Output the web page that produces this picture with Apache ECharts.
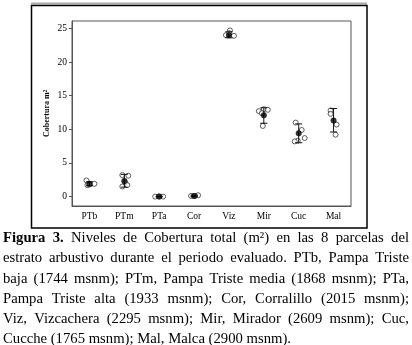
<!DOCTYPE html>
<html>
<head>
<meta charset="utf-8">
<script src="https://cdn.jsdelivr.net/npm/echarts@6/dist/echarts.min.js"></script>
<style>
html, body { margin: 0; padding: 0; background: #fff; }
#chart { width: 412px; height: 345px; }
</style>
</head>
<body>
<div id="chart"></div>
<script>
// categories (parcelas) and y tick labels
const categories = ['PTb', 'PTm', 'PTa', 'Cor', 'Viz', 'Mir', 'Cuc', 'Mal'];
const yTicks = [0, 5, 10, 15, 20, 25];

// mean and error bar limits per parcela
const means = [1.9, 2.3, 0.0, 0.1, 24.0, 12.1, 9.4, 11.3];
const lower = [1.6, 1.4, -0.05, 0.0, 23.6, 10.9, 8.0, 9.6];
const upper = [2.2, 3.3, 0.05, 0.2, 24.5, 13.2, 10.8, 13.1];

// individual observations (open circles)
const obsPTb = [2.4, 1.9, 1.7, 1.8];
const obsPTm = [3.2, 3.1, 2.1, 1.7, 1.5];
const obsPTa = [0.0, 0.0, 0.0];
const obsCor = [0.1, 0.2, 0.1];
const obsViz = [24.7, 24.3, 23.9, 24.0];
const obsMir = [13.0, 12.9, 12.7, 12.4, 10.5];
const obsCuc = [11.0, 9.9, 8.7, 8.3, 8.2];
const obsMal = [12.8, 12.3, 10.7, 9.2];
const observations = [obsPTb, obsPTm, obsPTa, obsCor, obsViz, obsMir, obsCuc, obsMal];

// horizontal jitter of the open circles, in pixels
const jitterPx = [
    [-3, 5, -2, 0],
    [-2, 4, 1, 3, -2],
    [-4, 4, 0],
    [-3, 4, 1],
    [1, 0, 5, -3],
    [0, 4, -5, -2, -1],
    [-3, 3, 6, -1, -4],
    [-3, -3, 3, 2]
];

const captionLines = [
    [['Figura', true], ['3.', true], 'Niveles', 'de', 'Cobertura', 'total', '(m²)', 'en', 'las', '8', 'parcelas', 'del'],
    'estrato arbustivo durante el periodo evaluado. PTb, Pampa Triste',
    'baja (1744 msnm); PTm, Pampa Triste media (1868 msnm); PTa,',
    'Pampa Triste alta (1933 msnm); Cor, Corralillo (2015 msnm);',
    'Viz, Vizcachera (2295 msnm); Mir, Mirador (2609 msnm); Cuc,',
    'Cucche (1765 msnm); Mal, Malca (2900 msnm).'
];

const serif = '"Liberation Serif", "Times New Roman", serif';
const chart = echarts.init(document.getElementById('chart'));

// justified caption, one text element per word
const capSize = 14.7;
const capLeft = 3, capRight = 409, capMiddle = 238.5, capStep = 20.1;
const ctx = document.createElement('canvas').getContext('2d');
function measure(t, bold) {
    ctx.font = (bold ? 'bold ' : '') + capSize + 'px ' + serif;
    return ctx.measureText(t).width;
}
const captionGraphics = [];
captionLines.forEach((line, i) => {
    let words = Array.isArray(line) ? line : line.split(' ');
    words = words.map(w => Array.isArray(w) ? { t: w[0], b: w[1] } : { t: w, b: false });
    const widths = words.map(w => measure(w.t, w.b));
    const total = widths.reduce((a, b) => a + b, 0);
    const last = i === captionLines.length - 1;
    const gap = last ? measure(' ', false) : (capRight - capLeft - total) / (words.length - 1);
    let x = capLeft;
    words.forEach((w, k) => {
        captionGraphics.push({
            type: 'text',
            x: x,
            y: capMiddle + i * capStep,
            style: {
                text: w.t,
                fontSize: capSize,
                fontFamily: serif,
                fontWeight: w.b ? 'bold' : 'normal',
                fill: '#000',
                verticalAlign: 'middle'
            }
        });
        x += widths[k] + gap;
    });
});

const pointData = [];
observations.forEach((vals, c) => {
    vals.forEach((v, k) => {
        pointData.push({ value: [c, v], symbolOffset: [jitterPx[c][k], 0] });
    });
});

const option = {
    animation: false,
    backgroundColor: '#fff',
    grid: {
        left: 72, top: 21, width: 279, height: 185,
        show: true, borderColor: '#555', borderWidth: 1
    },
    xAxis: {
        type: 'category',
        data: categories,
        axisLine: { onZero: false, lineStyle: { color: '#555' } },
        axisTick: { alignWithLabel: true, length: 3, lineStyle: { color: '#555' } },
        axisLabel: { color: '#000', fontFamily: serif, fontSize: 9.5, margin: 5 }
    },
    yAxis: {
        type: 'value',
        min: -1.4,
        max: 26.1,
        name: 'Cobertura m²',
        nameLocation: 'middle',
        nameGap: 21,
        nameMoveOverlap: false,
        nameRotate: 90,
        nameTextStyle: { color: '#000', fontFamily: serif, fontSize: 8, fontWeight: 'bold' },
        splitLine: { show: false },
        axisLine: { show: true, lineStyle: { color: '#555' } },
        axisTick: { show: true, length: 3, customValues: yTicks, lineStyle: { color: '#555' } },
        axisLabel: { color: '#000', fontFamily: serif, fontSize: 9.5, margin: 5, customValues: yTicks }
    },
    series: [
        {
            type: 'scatter',
            symbol: 'circle',
            symbolSize: 5,
            itemStyle: { color: '#fff', borderColor: '#222', borderWidth: 0.9 },
            data: pointData,
            z: 2
        },
        {
            type: 'custom',
            data: categories.map((c, i) => [i, lower[i], upper[i]]),
            renderItem: (params, api) => {
                const lo = api.coord([api.value(0), api.value(1)]);
                const hi = api.coord([api.value(0), api.value(2)]);
                const hw = 3.5;
                const st = { stroke: '#111', lineWidth: 1 };
                return {
                    type: 'group',
                    children: [
                        { type: 'line', shape: { x1: lo[0], y1: lo[1], x2: hi[0], y2: hi[1] }, style: st },
                        { type: 'line', shape: { x1: lo[0] - hw, y1: lo[1], x2: lo[0] + hw, y2: lo[1] }, style: st },
                        { type: 'line', shape: { x1: hi[0] - hw, y1: hi[1], x2: hi[0] + hw, y2: hi[1] }, style: st }
                    ]
                };
            },
            z: 3
        },
        {
            type: 'scatter',
            symbol: 'circle',
            symbolSize: 6,
            itemStyle: { color: '#000' },
            data: means.map((m, i) => [i, m]),
            z: 4
        }
    ],
    graphic: [
        { type: 'line', shape: { x1: 31, y1: 3.5, x2: 367, y2: 3.5 }, style: { stroke: '#aaa', lineWidth: 2 } },
        { type: 'rect', shape: { x: 31.5, y: 5.5, width: 335.5, height: 222.5 }, style: { fill: null, stroke: '#000', lineWidth: 1.5 } }
    ].concat(captionGraphics)
};
chart.setOption(option);
</script>
</body>
</html>
